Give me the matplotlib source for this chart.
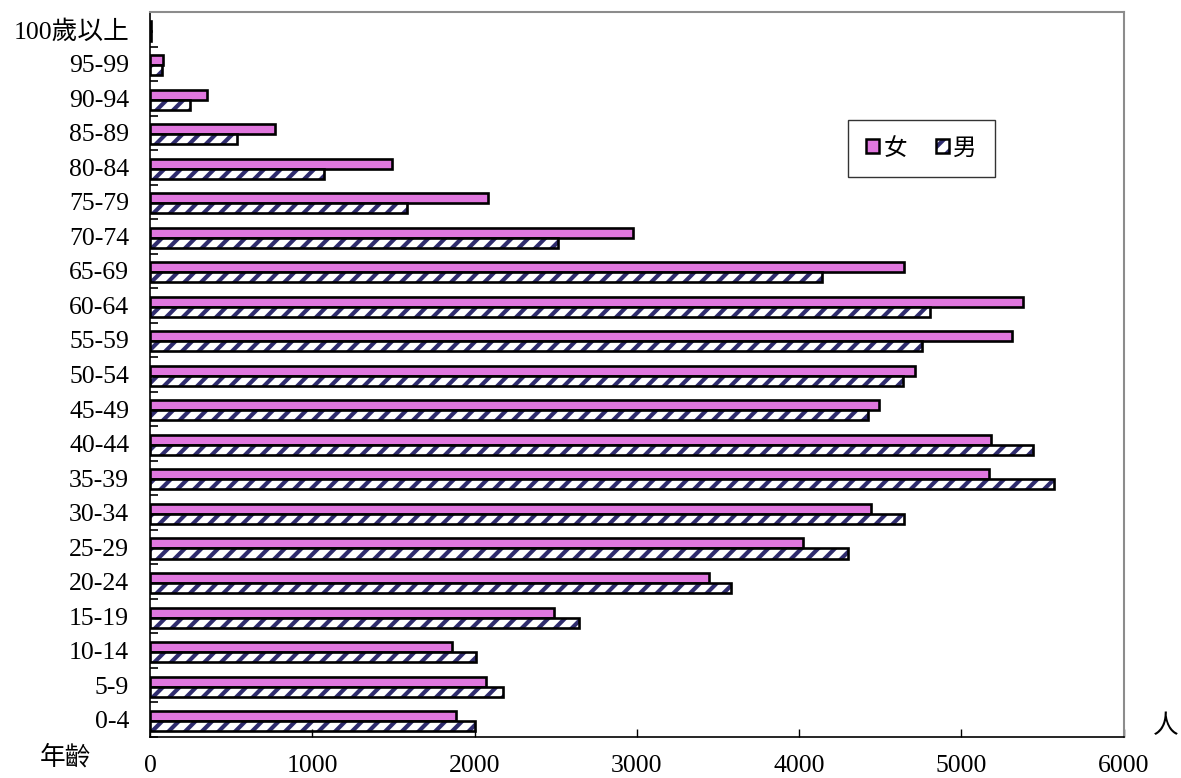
import numpy as np
import matplotlib
matplotlib.use('Agg')
import matplotlib.pyplot as plt
from matplotlib.patches import Patch

# serif for latin/digits, CJK falls back to Noto
plt.rcParams['font.family'] = ['Liberation Serif', 'Noto Sans CJK TC']
plt.rcParams['hatch.linewidth'] = 3.0

ages = ['0-4', '5-9', '10-14', '15-19', '20-24', '25-29', '30-34', '35-39',
        '40-44', '45-49', '50-54', '55-59', '60-64', '65-69', '70-74', '75-79',
        '80-84', '85-89', '90-94', '95-99', '100歲以上']
female = [1885, 2070, 1860, 2489, 3446, 4025, 4442, 5172, 5180, 4490, 4716,
          5314, 5382, 4648, 2974, 2080, 1489, 772, 349, 82, 8]
male = [2000, 2173, 2006, 2641, 3581, 4300, 4645, 5571, 5440, 4424, 4640,
        4758, 4807, 4140, 2516, 1581, 1072, 538, 248, 76, 4]

pink = '#E077DE'
navy = '#2F2C6E'

fig = plt.figure(figsize=(11.81, 7.78), dpi=100)
ax = fig.add_axes([0.127, 0.0527, 0.8245, 0.9319])

y = np.arange(len(ages))
h = 0.29
off = -0.04

# female bars (top of each pair)
ax.barh(y + off + h / 2, female, height=h, color=pink, lw=0)
ax.barh(y + off + h / 2, female, height=h, fill=False, edgecolor='k', lw=1.9)

# male bars: white with navy stripes, black outline
ax.barh(y + off - h / 2, male, height=h, facecolor='white', edgecolor=navy,
        hatch='//', lw=0)
ax.barh(y + off - h / 2, male, height=h, fill=False, edgecolor='k', lw=1.9)

ax.set_xlim(0, 6000)
ax.set_ylim(-0.5, len(ages) - 0.5)

ax.set_xticks(np.arange(0, 6001, 1000))
ax.tick_params(axis='x', direction='in', length=6, width=1, pad=13, labelsize=18.5)

# tick marks between the age groups, labels on the group centres
ax.set_yticks(np.arange(-0.5, len(ages), 1.0))
ax.set_yticklabels([])
ax.set_yticks(y, minor=True)
ax.set_yticklabels(ages, minor=True)
ax.tick_params(axis='y', which='major', direction='in', length=6, width=1.2)
ax.tick_params(axis='y', which='minor', length=0, pad=15, labelsize=18.5)

for s in ['left', 'bottom']:
    ax.spines[s].set_color('k')
    ax.spines[s].set_linewidth(1.2)
for s in ['top', 'right']:
    ax.spines[s].set_color('#8c8c8c')
    ax.spines[s].set_linewidth(1.5)

handles = [Patch(facecolor=pink, edgecolor='k', lw=1.8),
           (Patch(facecolor='white', edgecolor=navy, hatch='//', lw=0),
            Patch(fill=False, edgecolor='k', lw=1.8))]
leg = ax.legend(handles, ['女', '男'], ncol=2, loc='upper left',
                bbox_to_anchor=(0.717, 0.851), borderaxespad=0,
                fancybox=False, edgecolor='k', fontsize=17,
                handlelength=0.55, handleheight=0.55, handletextpad=0.2,
                columnspacing=1.2, borderpad=0.75)
leg.get_frame().set_linewidth(1.0)

fig.text(0.034, 0.027, '年齡', fontsize=18.5, va='center', ha='left')
fig.text(0.998, 0.066, '人', fontsize=18.5, va='center', ha='right')

fig.savefig('out.png', dpi=100)
